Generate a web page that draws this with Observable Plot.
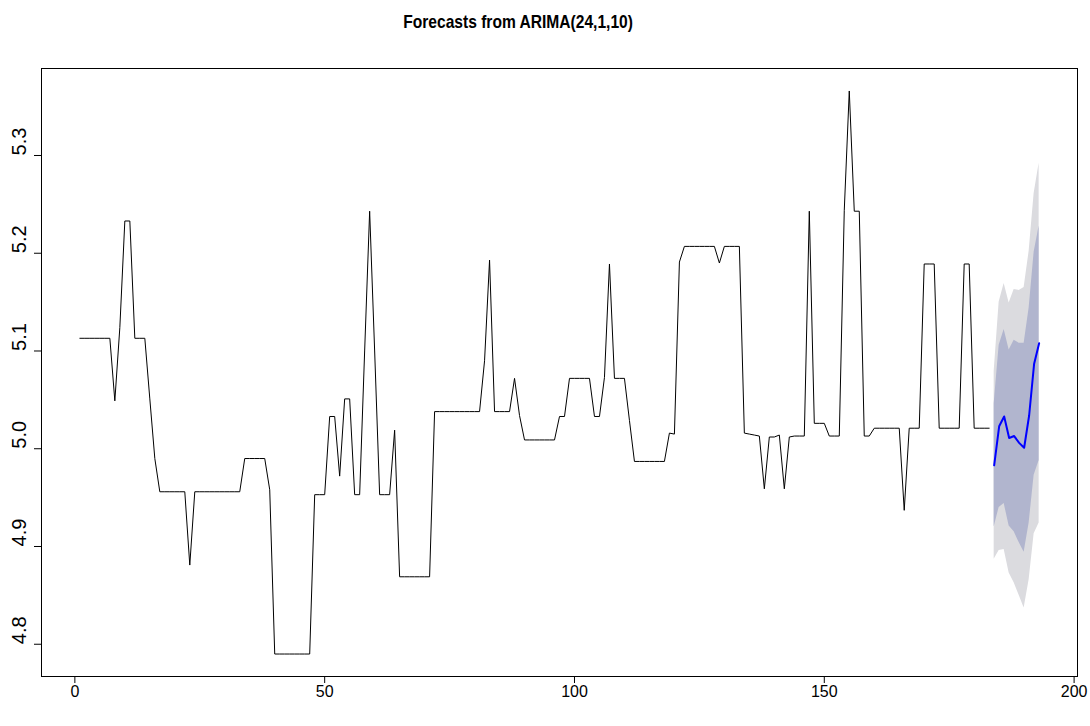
<!DOCTYPE html>
<html><head><meta charset="utf-8">
<script src="https://cdn.jsdelivr.net/npm/d3@7"></script>
<script src="https://cdn.jsdelivr.net/npm/@observablehq/plot@0.6"></script>
<style>
body{margin:0;background:#fff;}
#title{width:1036px;height:40px;box-sizing:border-box;padding-top:12px;text-align:center;font-family:"Liberation Sans",Arial,sans-serif;font-weight:bold;font-size:19px;line-height:19px;color:#000;}
#title span{display:inline-block;transform:scaleX(0.82);transform-origin:center;}
#chart svg{display:block;}
</style></head><body>
<div id="title"><span></span></div><div id="chart"></div>
<script>
const titleText = "Forecasts from ARIMA(24,1,10)";
const observed = [
5.113,5.113,5.113,5.113,5.113,5.113,5.113,5.049,5.124,5.233,
5.233,5.113,5.113,5.113,5.051,4.990,4.956,4.956,4.956,4.956,
4.956,4.956,4.881,4.956,4.956,4.956,4.956,4.956,4.956,4.956,
4.956,4.956,4.956,4.990,4.990,4.990,4.990,4.990,4.958,4.790,
4.790,4.790,4.790,4.790,4.790,4.790,4.790,4.953,4.953,4.953,
5.033,5.033,4.972,5.051,5.051,4.953,4.953,5.100,5.243,5.100,
4.953,4.953,4.953,5.019,4.869,4.869,4.869,4.869,4.869,4.869,
4.869,5.038,5.038,5.038,5.038,5.038,5.038,5.038,5.038,5.038,
5.038,5.090,5.193,5.038,5.038,5.038,5.038,5.072,5.034,5.009,
5.009,5.009,5.009,5.009,5.009,5.009,5.033,5.033,5.072,5.072,
5.072,5.072,5.072,5.033,5.033,5.073,5.189,5.072,5.072,5.072,
5.029,4.987,4.987,4.987,4.987,4.987,4.987,4.987,5.016,5.015,
5.191,5.207,5.207,5.207,5.207,5.207,5.207,5.207,5.190,5.207,
5.207,5.207,5.207,5.016,5.015,5.014,5.013,4.959,5.012,5.012,
5.014,4.959,5.012,5.013,5.013,5.013,5.243,5.026,5.026,5.026,
5.013,5.013,5.013,5.244,5.366,5.243,5.243,5.013,5.013,5.021,
5.021,5.021,5.021,5.021,5.021,4.937,5.021,5.021,5.021,5.189,
5.189,5.189,5.021,5.021,5.021,5.021,5.021,5.189,5.189,5.021,
5.021,5.021,5.021
];
const forecastStart = 184;
const forecastMean = [4.983,5.023,5.033,5.011,5.013,5.006,5.001,5.034,5.087,5.108];
const lo80 = [4.920,4.940,4.944,4.921,4.915,4.904,4.894,4.924,4.973,4.988];
const hi80 = [5.046,5.106,5.122,5.101,5.111,5.108,5.108,5.144,5.201,5.228];
const lo95 = [4.887,4.896,4.897,4.873,4.863,4.850,4.837,4.866,4.913,4.924];
const hi95 = [5.079,5.150,5.169,5.149,5.163,5.162,5.165,5.202,5.261,5.292];
const xTicks = [0,50,100,150,200];
const yTicks = [4.8,4.9,5.0,5.1,5.2,5.3];

document.querySelector("#title span").textContent = titleText;

const obs = observed.map((v,i)=>({t:i+1, v}));
const fc = forecastMean.map((v,i)=>({t:forecastStart+i, v, lo80:lo80[i], hi80:hi80[i], lo95:lo95[i], hi95:hi95[i]}));

const chart = Plot.plot({
  width: 1090, height: 686,
  marginTop: 28, marginBottom: 50, marginLeft: 41, marginRight: 13,
  style: {fontFamily: "'Liberation Sans', Arial, sans-serif", background: "#fff", color: "#000"},
  x: {domain: [-6.68, 200.68], label: null},
  y: {domain: [4.767, 5.389], label: null},
  marks: [
    Plot.areaY(fc, {x: "t", y1: "lo95", y2: "hi95", fill: "#DBDBDF"}),
    Plot.areaY(fc, {x: "t", y1: "lo80", y2: "hi80", fill: "#B1B5CE"}),
    Plot.line(obs, {x: "t", y: "v", stroke: "#000", strokeWidth: 1}),
    Plot.line(fc, {x: "t", y: "v", stroke: "#0000FF", strokeWidth: 2}),
    Plot.frame({stroke: "#000", strokeWidth: 1}),
    Plot.axisX(xTicks, {tickSize: 7, tickPadding: 2, fontSize: 16, label: null, tickFormat: d => String(d), stroke: "#000"}),
    Plot.axisY(yTicks, {tickSize: 7, label: null, tickFormat: () => "", stroke: "#000"}),
    Plot.text(yTicks, {y: d => d, text: d => d.toFixed(1), frameAnchor: "left", dx: -22, rotate: -90, fontSize: 20, fill: "#000"})
  ]
});
document.getElementById("chart").appendChild(chart);
</script>
</body></html>
